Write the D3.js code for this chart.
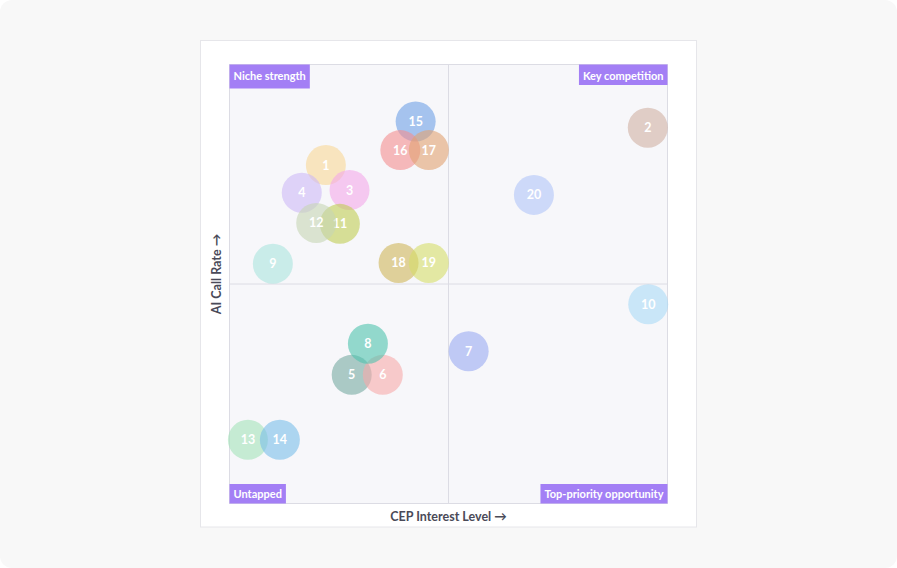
<!DOCTYPE html>
<html>
<head>
<meta charset="utf-8">
<script src="https://cdn.jsdelivr.net/npm/d3@7"></script>
<style>
  html, body { margin: 0; padding: 0; background: #ffffff; }
  #wrap { width: 897px; height: 568px; background: #f8f8f8; border-radius: 12px; position: relative; overflow: hidden; }
  svg { display: block; }
  text { font-family: Lato, "Noto Sans", sans-serif; }
</style>
</head>
<body>
<div id="wrap"></div>
<script>
// ---- data ----
const ids = ["1","2","3","4","5","6","7","8","9","10","11","12","13","14","15","16","17","18","19","20"];
const cepInterest = [22.0, 95.5, 27.4, 16.5, 27.9, 35.0, 54.6, 31.6, 9.9, 95.6, 25.2, 19.8, 4.2, 11.5, 42.5, 39.0, 45.5, 38.6, 45.5, 69.5];
const aiCallRate  = [77.1, 85.6, 71.4, 70.8, 29.3, 29.3, 34.7, 36.4, 54.6, 45.4, 63.7, 63.9, 14.5, 14.5, 87.0, 80.5, 80.5, 54.8, 54.8, 70.3];
const colors = ["#f9d796","#d1b1a3","#f4a9e9","#cdb9f7","#77aaa2","#f7aaaa","#9aaaf2","#4fc3ad","#aae5de","#aadbf7",
                "#c0cd53","#c7d6b4","#a4e3b9","#7abee9","#6ea0e6","#f48e8f","#e1a271","#cfb65a","#d6de69","#b1c5f8"];
const quadrantLabels = ["Niche strength","Key competition","Untapped","Top-priority opportunity"];
const xTitle = "CEP Interest Level \u2192";
const yTitle = "AI Call Rate \u2192";

const points = ids.map((id, i) => ({ id, x: cepInterest[i], y: aiCallRate[i], c: colors[i] }));

// ---- layout ----
const W = 897, H = 568;
const svg = d3.select("#wrap").append("svg").attr("width", W).attr("height", H);

// card
svg.append("rect").attr("x", 200.5).attr("y", 40.5).attr("width", 496).attr("height", 486.5)
  .attr("fill", "#ffffff").attr("stroke", "#e6e6ea").attr("stroke-width", 1);

const plot = { left: 229.5, top: 64.5, width: 438, height: 439 };
const x = d3.scaleLinear().domain([0, 100]).range([plot.left, plot.left + plot.width]);
const y = d3.scaleLinear().domain([0, 100]).range([plot.top + plot.height, plot.top]);

svg.append("rect").attr("x", plot.left).attr("y", plot.top).attr("width", plot.width).attr("height", plot.height)
  .attr("fill", "#f7f7fa").attr("stroke", "#dcdce4").attr("stroke-width", 1);

// midlines
svg.append("line").attr("x1", x(50)).attr("x2", x(50)).attr("y1", plot.top).attr("y2", plot.top + plot.height)
  .attr("stroke", "#dcdce4").attr("stroke-width", 1);
svg.append("line").attr("x1", plot.left).attr("x2", plot.left + plot.width).attr("y1", y(50)).attr("y2", y(50))
  .attr("stroke", "#dcdce4").attr("stroke-width", 1);

// bubbles
const g = svg.append("g");
const nodes = g.selectAll("g.b").data(points).join("g").attr("class", "b")
  .attr("transform", d => `translate(${x(d.x)},${y(d.y)})`);
nodes.append("circle").attr("r", 20).attr("fill", d => d.c).attr("fill-opacity", 0.6);
nodes.append("text").text(d => d.id)
  .attr("text-anchor", "middle").attr("dy", "0.36em")
  .attr("fill", "#ffffff").attr("font-size", 12.5).attr("font-weight", 700);

// quadrant labels
const qPos = [
  { t: quadrantLabels[0], ax: "left",  ay: "top",    h: 24 },
  { t: quadrantLabels[1], ax: "right", ay: "top",    h: 20.5 },
  { t: quadrantLabels[2], ax: "left",  ay: "bottom", h: 19.5 },
  { t: quadrantLabels[3], ax: "right", ay: "bottom", h: 19.5 }
];
qPos.forEach(q => {
  const grp = svg.append("g");
  const txt = grp.append("text").text(q.t).attr("font-size", 11).attr("font-weight", 700).attr("fill", "#ffffff");
  const tw = txt.node().getComputedTextLength();
  const bw = tw + 8;
  const bx = q.ax === "left" ? plot.left : plot.left + plot.width - bw;
  const by = q.ay === "top" ? plot.top : plot.top + plot.height - q.h;
  grp.insert("rect", "text").attr("x", bx).attr("y", by).attr("width", bw).attr("height", q.h).attr("fill", "#a37ff5");
  txt.attr("x", bx + 4).attr("y", by + (q.ay === "top" ? 12 : q.h / 2)).attr("dy", "0.36em");
});

// axis titles
svg.append("text").text(xTitle).attr("x", x(50)).attr("y", 516).attr("dy", "0.36em")
  .attr("text-anchor", "middle").attr("font-size", 12.5).attr("font-weight", 700).attr("fill", "#4a4a58");
svg.append("text").text(yTitle)
  .attr("transform", `translate(216.5,274) rotate(-90)`).attr("dy", "0.36em")
  .attr("text-anchor", "middle").attr("font-size", 12.5).attr("font-weight", 700).attr("fill", "#4a4a58");
</script>
</body>
</html>
